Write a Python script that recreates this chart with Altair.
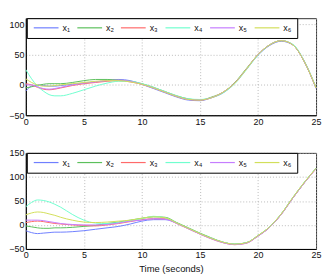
import altair as alt
import pandas as pd

t = [0, 0.5, 1, 1.5, 2, 2.5, 3, 4, 5, 6, 7, 8, 9, 10, 11, 12, 13, 14, 15, 16,
     17, 18, 19, 20, 21, 22, 23, 24, 25]

series = ["x\u2081", "x\u2082", "x\u2083", "x\u2084", "x\u2085", "x\u2086"]
colors = ["#6f7fff", "#5cc05c", "#ff6a6a", "#70ffcf", "#c57dff", "#d2df5a"]

# top panel
top_x1 = [-10, -2, 0, -1, -2, -2, -1, 1, 3, 5, 7, 9, 7, 1, -6, -13, -20, -25, -26, -21, -13, 3, 26, 49, 65, 72, 66, 38, -6]
top_x2 = [-5, -3, -1, 1, 2, 2, 2, 4, 7, 9, 9, 8, 6, 2, -4, -11, -18, -23, -25, -20, -12, 4, 27, 50, 66, 73, 66, 38, -5]
top_x3 = [2, 0, -4, -7, -8, -7, -5, -1, 2, 4, 6, 7, 5, 1, -5, -12, -19, -24, -25, -21, -12, 3, 26, 50, 66, 73, 66, 38, -5]
top_x4 = [25, 10, -2, -10, -16, -18, -18, -14, -8, -2, 3, 6, 6, 2, -4, -11, -18, -23, -24, -21, -13, 2, 25, 49, 66, 73, 67, 39, -4]
top_x5 = [0, 0, -3, -6, -7, -6, -4, 0, 3, 5, 7, 8, 6, 1, -5, -12, -19, -24, -25, -21, -12, 3, 26, 50, 66, 73, 66, 38, -5]
top_x6 = [10, 4, 0, -2, -2, -1, 0, 2, 4, 6, 7, 7, 5, 1, -5, -12, -19, -24, -25, -21, -12, 3, 26, 50, 66, 73, 66, 38, -5]

# bottom panel
bot_x1 = [-12, -16, -18, -17, -16, -15, -15, -14, -12, -9, -6, -3, 2, 8, 11, 11, 4, -7, -18, -28, -36, -40, -37, -23, -5, 22, 56, 88, 118]
bot_x2 = [-2, -4, -6, -7, -7, -6, -6, -5, -3, -1, 3, 6, 10, 14, 17, 16, 5, -6, -17, -27, -36, -40, -37, -22, -4, 23, 57, 89, 118]
bot_x3 = [5, 7, 8, 7, 5, 3, 2, 0, -1, -2, 0, 3, 7, 11, 13, 13, 3, -8, -19, -29, -37, -41, -38, -23, -5, 22, 56, 88, 117]
bot_x4 = [38, 47, 52, 51, 48, 43, 37, 22, 10, 4, 3, 5, 9, 13, 18, 15, 4, -7, -18, -28, -36, -40, -37, -22, -4, 23, 57, 89, 118]
bot_x5 = [10, 10, 10, 9, 7, 5, 3, 1, 0, 0, 1, 4, 8, 10, 13, 12, 3, -8, -19, -29, -37, -41, -38, -23, -5, 22, 56, 88, 117]
bot_x6 = [21, 25, 27, 26, 23, 20, 16, 10, 6, 5, 6, 8, 10, 14, 17, 15, 4, -7, -18, -28, -36, -40, -37, -22, -4, 23, 57, 89, 118]

x_ticks = [0, 5, 10, 15, 20, 25]
top_y_ticks = [-50, 0, 50, 100]
bot_y_ticks = [-50, 0, 50, 100, 150]


def long_df(cols):
    rows = []
    for name, vals in zip(series, cols):
        for ti, v in zip(t, vals):
            rows.append({"t": ti, "v": v, "s": name})
    return pd.DataFrame(rows)


df_top = long_df([top_x1, top_x2, top_x3, top_x4, top_x5, top_x6])
df_bot = long_df([bot_x1, bot_x2, bot_x3, bot_x4, bot_x5, bot_x6])

FONT = "Liberation Sans"


def legend():
    return alt.Legend(
        orient="none", legendX=1, legendY=0, direction="horizontal",
        columns=6, title=None, symbolType="M-5,0H5", symbolSize=25,
        symbolStrokeWidth=1.2, symbolOffset=10, labelFontSize=9, labelFont=FONT,
        labelColor="#111", strokeColor="#000", fillColor="white",
        padding=5, columnPadding=4, labelOffset=12, rowPadding=0,
    )


def panel(df, ydom, yticks, xtitle, h):
    return alt.Chart(df).mark_line(interpolate="monotone", strokeWidth=1).encode(
        x=alt.X("t:Q", scale=alt.Scale(domain=[0, 25], nice=False),
                axis=alt.Axis(values=x_ticks, title=xtitle)),
        y=alt.Y("v:Q", scale=alt.Scale(domain=ydom, nice=False),
                axis=alt.Axis(values=yticks, title=None)),
        color=alt.Color("s:N", scale=alt.Scale(domain=series, range=colors),
                        legend=legend()),
    ).properties(width=293, height=h)


top = panel(df_top, [-50, 110], top_y_ticks, None, 98)
bot = panel(df_bot, [-50, 150], bot_y_ticks, "Time (seconds)", 97)

chart = alt.vconcat(top, bot, spacing=38, bounds="flush").resolve_scale(
    color="independent", y="independent"
).resolve_legend(color="independent").properties(
    padding={"left": 0, "top": 8, "right": 0, "bottom": 0},
).configure_view(stroke="#333", strokeWidth=1).configure_axis(
    labelFont=FONT, labelFontSize=9, labelColor="#111",
    titleFont=FONT, titleFontSize=9.5, titleFontWeight="normal", titleColor="#111",
    grid=True, gridDash=[1, 2], gridColor="#aaa", gridWidth=0.8,
    domainColor="#000", domainWidth=1, tickSize=0, labelPadding=2,
    titlePadding=4, labelFlush=False,
)

chart.save("out.html", embed_options={"renderer": "svg", "actions": False})
